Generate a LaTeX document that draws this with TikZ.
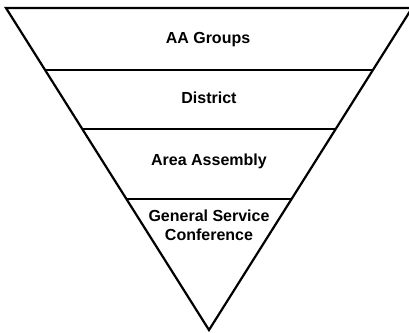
\documentclass[tikz,border=0pt]{standalone}
\usepackage{fontspec}
\setmainfont{Liberation Sans}
\usepackage{tikz}
\usetikzlibrary{calc, positioning}

\begin{document}
\begin{tikzpicture}[x=1pt, y=-1pt, line join=miter,
		level/.style={font=\fontsize{16}{19}\selectfont\bfseries, align=center, anchor=base}]
			\useasboundingbox (0,0) rectangle (409,332);
			
			% Corners
			\coordinate (TL) at (6,8);
			\coordinate (TR) at (412,8);
			\coordinate (apex) at (209,330);
			
			% Triangle
			\draw[line width=2.2pt] (TL) -- (TR) -- (apex) -- cycle;
			
			% Dividing lines
			\draw[line width=2.2pt] ($(TL)!0.1925!(apex)$) -- ($(TR)!0.1925!(apex)$);
			\draw[line width=2.2pt] ($(TL)!0.3758!(apex)$) -- ($(TR)!0.3758!(apex)$);
			\draw[line width=2.2pt] ($(TL)!0.5932!(apex)$) -- ($(TR)!0.5932!(apex)$);
			
			% Labels
			\node (groups) [level] at (208,43.5) {AA Groups};
			\node (district) [level] at (209,103) {District};
			\node (area) [level] at (209,165.7) {Area Assembly};
			\node (gsc) [level] at (209,240.7) {General Service\\Conference};
		\end{tikzpicture}
\end{document}
